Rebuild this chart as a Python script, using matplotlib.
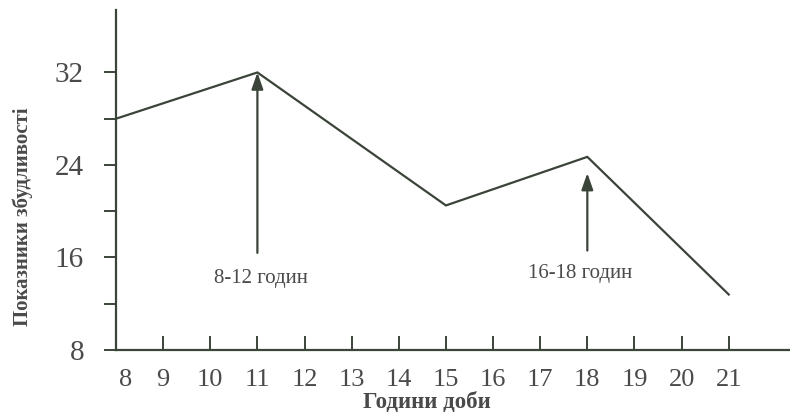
import matplotlib
matplotlib.use("Agg")
import matplotlib.pyplot as plt
from matplotlib.transforms import ScaledTranslation

hours = [8, 11, 15, 18, 21]
values = [28.0, 32.0, 20.5, 24.7, 12.8]

x_ticks = list(range(8, 22))
y_ticks = [8, 12, 16, 20, 24, 28, 32]
y_labels = ["8", "", "16", "", "24", "", "32"]

arrow_x = [11, 18]
arrow_tip = [32.0, 23.3]
arrow_base = [16.4, 16.6]
arrow_text = ["8-12 годин", "16-18 годин"]
text_x = [11.08, 17.85]
text_y = [14.2, 14.6]

line_c = "#3b4439"
text_c = "#4a4a4a"

plt.rcParams["font.family"] = ["Liberation Serif", "DejaVu Serif"]

fig = plt.figure(figsize=(7.9, 4.12), dpi=100)
ax = fig.add_axes([116/790, 1-350/412, 1-116/790, 340/412])

ax.plot(hours, values, color=line_c, lw=1.6, solid_joinstyle="miter")

for xa, tip, base, txt, tx, ty in zip(arrow_x, arrow_tip, arrow_base, arrow_text, text_x, text_y):
    ax.annotate("", xy=(xa, tip), xytext=(xa, base),
                arrowprops=dict(arrowstyle="-|>,head_length=1.0,head_width=0.35",
                                color=line_c, lw=1.6, shrinkA=0, shrinkB=0))
    ax.text(tx, ty, txt, ha="center", va="center", fontsize=15, color=text_c)

ax.set_xlim(8, 22.3)
ax.set_ylim(8, 37.4)

for s in ["top", "right"]:
    ax.spines[s].set_visible(False)
for s in ["left", "bottom"]:
    ax.spines[s].set_color(line_c)
    ax.spines[s].set_linewidth(1.6)

ax.set_yticks(y_ticks)
ax.set_yticklabels(y_labels)
ax.tick_params(axis="y", direction="out", length=9, width=1.4, color=line_c,
               labelsize=21, labelcolor=text_c, pad=14)

ax.set_xticks(x_ticks)
ax.set_xticklabels([str(h) for h in x_ticks])
ax.tick_params(axis="x", direction="in", length=10, width=1.4, color=line_c,
               labelsize=19, labelcolor=text_c, pad=14)
ax.xaxis.get_major_ticks()[0].tick1line.set_visible(False)
first = ax.get_xticklabels()[0]
first.set_transform(first.get_transform() + ScaledTranslation(0.1, 0, fig.dpi_scale_trans))

ax.set_ylabel("Показники збудливості", fontsize=15, fontweight="bold", color=text_c)
ax.yaxis.set_label_coords(-(116-23)/674, (350-217)/340)
ax.get_yaxis().label.set_va("center")

ax.set_xlabel("Години доби", fontsize=16.5, fontweight="bold", color=text_c)
ax.xaxis.set_label_coords((427-116)/674, -(402-350)/340)
ax.xaxis.label.set_va("center")

fig.savefig("out.png", dpi=100, facecolor="white")
